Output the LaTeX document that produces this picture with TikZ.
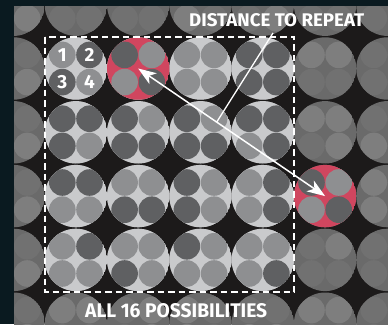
\documentclass[tikz,border=0pt]{standalone}
\usepackage{fontspec}
\setmainfont{Fira Sans}
\usetikzlibrary{arrows.meta}

\definecolor{frame}{HTML}{0A1A20}
\definecolor{gap}{HTML}{1C1A1A}
\definecolor{inbig}{HTML}{C9CACC}
\definecolor{in0}{HTML}{8E8F91}
\definecolor{in1}{HTML}{5F6062}
\definecolor{outbig}{HTML}{6A6A6A}
\definecolor{out0}{HTML}{7E7E7E}
\definecolor{out1}{HTML}{717171}
\definecolor{hilite}{HTML}{D0465F}

% one big dot holding four small ones: x, y, big fill, colour prefix, TL, TR, BL, BR
\newcommand{\dotcell}[8]{%
  \begin{scope}
  \clip (#1,#2) circle[radius=31.2pt];
  \fill[#3] (#1,#2) circle[radius=31.2pt];
  \fill[#4#5] (#1-13.6,#2-13.6) circle[radius=13.3pt];
  \fill[#4#6] (#1+13.6,#2-13.6) circle[radius=13.3pt];
  \fill[#4#7] (#1-13.6,#2+13.6) circle[radius=13.3pt];
  \fill[#4#8] (#1+13.6,#2+13.6) circle[radius=13.3pt];
  \end{scope}
}

\tikzset{
  caption/.style={anchor=south west, inner sep=0pt, text=white, font=\bfseries},
  digit/.style={inner sep=0pt, text=white, font=\fontsize{19}{19}\selectfont\bfseries},
  pointer/.style={white, line width=1.5pt},
}

\begin{document}
\begin{tikzpicture}[x=1pt,y=-1pt]
\useasboundingbox (0,0) rectangle (388,324);
\fill[frame] (0,0) rectangle (388,324);

\begin{scope}
\clip (14,6) rectangle (388,324);
\fill[gap] (14,6) rectangle (388,324);
% the faded repeat all round
\foreach \row [count=\j from 0] in {
  {1/1/1/0, 1/0/1/1, 1/0/1/1, 1/1/0/1, 1/1/1/0, 1/0/1/1, 1/0/1/1},
  {1/1/0/0, 0/1/1/0, 1/0/0/1, 0/0/0/0, 1/1/1/1, 0/0/1/1, 1/0/1/0},
  {0/1/0/0, 0/1/0/0, 0/0/1/0, 1/0/0/0, 0/0/0/1, 0/0/1/0, 1/0/0/0},
  {0/1/1/0, 0/1/1/0, 1/0/0/1, 0/0/0/0, 1/1/1/1, 1/0/0/1, 0/0/0/0},
  {1/1/1/0, 1/1/1/0, 1/0/1/1, 1/0/1/1, 1/1/0/1, 1/0/1/1, 1/0/1/1},
  {1/1/0/0, 0/0/1/1, 1/0/1/0, 0/1/0/1, 1/1/0/0, 0/0/1/1, 1/0/1/0}} {
  \foreach \a/\b/\c/\d [count=\i from 0] in \row {
    \pgfmathsetmacro\cx{13.6+62.3*\i}
    \pgfmathsetmacro\cy{4.7+63.8*\j}
    \dotcell{\cx}{\cy}{outbig}{out}{\a}{\b}{\c}{\d}
  }
}
% the sixteen
\foreach \row [count=\j from 1] in {
  {0/1/1/0, 1/0/0/1, 0/0/0/0, 1/1/1/1},
  {1/1/1/0, 1/0/1/1, 1/0/1/1, 1/1/0/1},
  {1/1/0/0, 0/0/1/1, 1/0/1/0, 0/1/0/1},
  {0/1/0/0, 0/0/1/0, 1/0/0/0, 0/0/0/1}} {
  \foreach \a/\b/\c/\d [count=\i from 1] in \row {
    \pgfmathsetmacro\cx{13.6+62.3*\i}
    \pgfmathsetmacro\cy{4.7+63.8*\j}
    \dotcell{\cx}{\cy}{inbig}{in}{\a}{\b}{\c}{\d}
  }
}
\dotcell{138.2}{68.5}{hilite}{in}{1}{0}{0}{1}
\dotcell{325.1}{196.1}{hilite}{in}{1}{0}{0}{1}
\end{scope}

\coordinate (firstred) at (138.2,68.5);
\coordinate (repeatred) at (325.1,196.1);
\coordinate (lead) at (273,33);

\draw[white, line width=1.8pt, dash pattern=on 6.5pt off 4pt] (45,37) rectangle (294,292);

\node[digit] (n1) at (62.4,55) {1};
\node[digit] (n2) at (89.6,55) {2};
\node[digit] (n3) at (62.4,82.2) {3};
\node[digit] (n4) at (89.6,82.2) {4};

\node[caption] (dist) at (189,27) {\resizebox{175pt}{13pt}{DISTANCE TO REPEAT}};
\node[caption] (all16) at (85,318) {\resizebox{182pt}{14pt}{ALL 16 POSSIBILITIES}};

\draw[pointer, {Stealth[length=18pt,width=13pt,inset=5pt]}-{Stealth[length=18pt,width=13pt,inset=5pt]}]
  (firstred) -- (repeatred);
\path (firstred) -- (repeatred) coordinate[pos=0.42] (split);
\draw[pointer, line width=1.3pt] (lead) -- (split);
\end{tikzpicture}
\end{document}
